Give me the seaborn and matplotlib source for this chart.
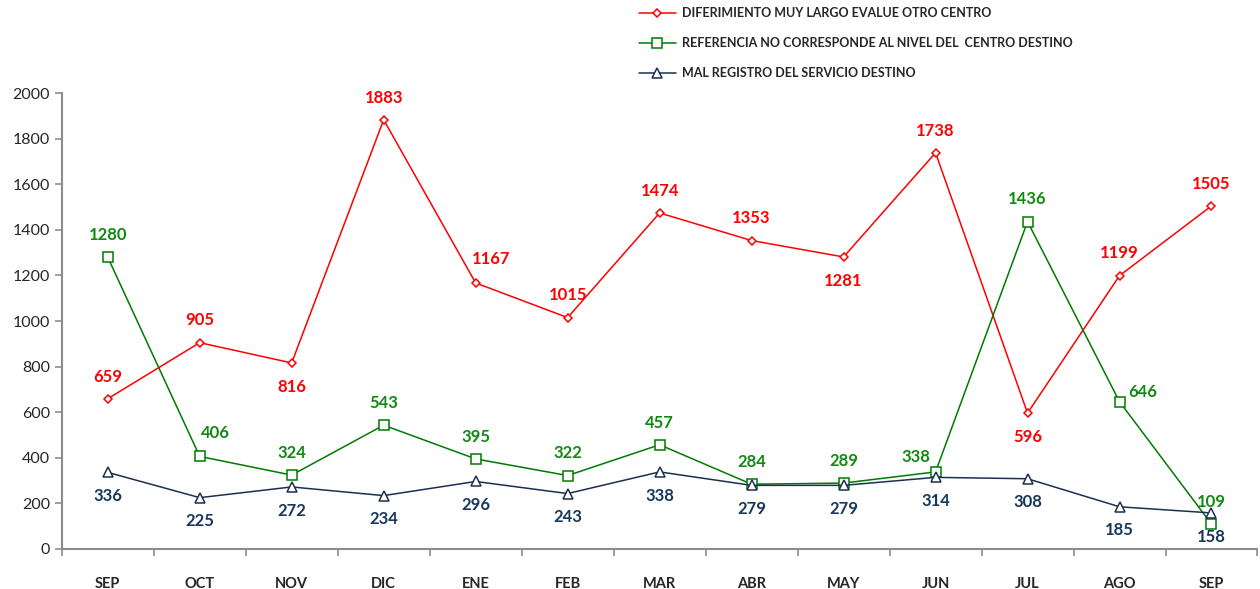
import pandas as pd
import matplotlib
matplotlib.use("Agg")
import matplotlib.pyplot as plt
from matplotlib.ticker import FixedLocator, NullFormatter
import seaborn as sns

months = ["SEP", "OCT", "NOV", "DIC", "ENE", "FEB", "MAR", "ABR", "MAY", "JUN", "JUL", "AGO", "SEP"]

diferimiento = [659, 905, 816, 1883, 1167, 1015, 1474, 1353, 1281, 1738, 596, 1199, 1505]
referencia = [1280, 406, 324, 543, 395, 322, 457, 284, 289, 338, 1436, 646, 109]
mal_registro = [336, 225, 272, 234, 296, 243, 338, 279, 279, 314, 308, 185, 158]

names = [
    "DIFERIMIENTO MUY LARGO EVALUE OTRO CENTRO",
    "REFERENCIA NO CORRESPONDE AL NIVEL DEL  CENTRO DESTINO",
    "MAL REGISTRO DEL SERVICIO DESTINO",
]

# where the value label sits: 'a' above, 'b' below, others are nudged
red_pos = ["a", "a", "b", "a", "ar", "a", "a", "a", "b", "a", "b", "a", "a"]
green_pos = ["a", "ar", "a", "a", "a", "a", "a", "a", "a", "al", "a", "r", "a"]
blue_pos = ["b"] * 13

offsets = {
    "a": (0, 16),
    "b": (0, -17),
    "ar": (11, 17),
    "al": (-14, 11),
    "r": (17, 7),
}


def main():
    sns.set_style("white", {"xtick.bottom": True, "ytick.left": True})
    plt.rcParams["font.family"] = ["Lato", "DejaVu Sans"]

    fig = plt.figure(figsize=(12.6, 5.89), dpi=100)
    ax = fig.add_axes([0.049, 0.068, 0.949, 0.774])

    idx = list(range(len(months)))
    series = [
        (names[0], diferimiento, "#FF0000", "D", 4.5, red_pos, "#FF0000"),
        (names[1], referencia, "#007A00", "s", 7, green_pos, "#118A11"),
        (names[2], mal_registro, "#1B2F4F", "^", 7, blue_pos, "#17375E"),
    ]

    for name, vals, color, marker, msize, pos, tcolor in series:
        df = pd.DataFrame({"x": idx, "y": vals})
        sns.lineplot(data=df, x="x", y="y", ax=ax, color=color, marker=marker,
                     markersize=msize, markerfacecolor="white", markeredgecolor=color,
                     markeredgewidth=1.1, linewidth=1.1, label=name)
        for i, v in enumerate(vals):
            ax.annotate(str(v), (i, v), xytext=offsets[pos[i]], textcoords="offset points",
                        ha="center", va="center", fontsize=12, fontweight="bold",
                        color=tcolor)

    ax.set_xlim(-0.5, len(months) - 0.5)
    ax.set_ylim(0, 2000)
    ax.set_yticks(range(0, 2001, 200))
    ax.set_xticks(idx)
    ax.set_xticklabels(months, fontsize=10.5, fontweight="bold")
    ax.xaxis.set_minor_locator(FixedLocator([i - 0.5 for i in range(len(months) + 1)]))
    ax.xaxis.set_minor_formatter(NullFormatter())
    ax.tick_params(axis="x", which="major", bottom=True, length=0, pad=20)
    ax.tick_params(axis="x", which="minor", bottom=True, length=5, color="#8C8C8C",
                   direction="out", width=1.2)
    ax.tick_params(axis="y", which="major", left=True, length=5, color="#8C8C8C",
                   direction="out", width=1.2, labelsize=11.5)
    ax.set_xlabel("")
    ax.set_ylabel("")

    for side in ["top", "right"]:
        ax.spines[side].set_visible(False)
    for side in ["left", "bottom"]:
        ax.spines[side].set_color("#8C8C8C")
        ax.spines[side].set_linewidth(1.5)

    handles, labels = ax.get_legend_handles_labels()
    ax.get_legend().remove()
    fig.legend(handles, labels, loc="upper left", bbox_to_anchor=(0.498, 1.007),
               frameon=False, prop={"weight": "bold", "size": 9},
               handlelength=3, labelspacing=1.45, handletextpad=0.5)

    fig.savefig("out.png", dpi=100)


if __name__ == "__main__":
    main()
